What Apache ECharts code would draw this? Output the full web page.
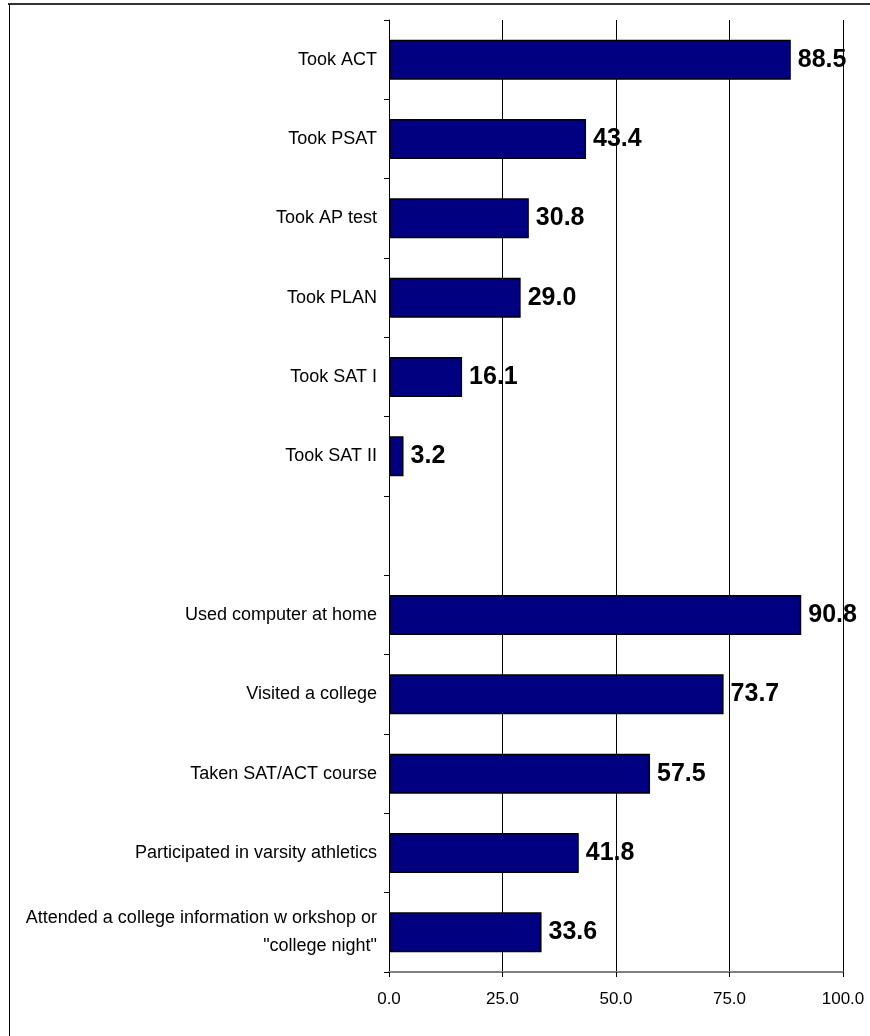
<!DOCTYPE html>
<html>
<head>
<meta charset="utf-8">
<script src="https://cdn.jsdelivr.net/npm/echarts@6/dist/echarts.min.js"></script>
<style>html,body{margin:0;padding:0;background:#fff}#c{width:870px;height:1036px}</style>
</head>
<body>
<div id="c"></div>
<script>
var categories = ["Took ACT","Took PSAT","Took AP test","Took PLAN","Took SAT I","Took SAT II","","Used computer at home","Visited a college","Taken SAT/ACT course","Participated in varsity athletics","Attended a college information w orkshop or\n\"college night\""];
var values = [88.5, 43.4, 30.8, 29.0, 16.1, 3.2, null, 90.8, 73.7, 57.5, 41.8, 33.6];
var xTicks = {min: 0, max: 100, interval: 25};

var chart = echarts.init(document.getElementById('c'));
chart.setOption({
  animation: false,
  textStyle: {fontFamily: 'Liberation Sans, Arial, sans-serif'},
  graphic: [
    {type: 'line', shape: {x1: 8, y1: 4, x2: 870, y2: 4}, style: {stroke: '#333', lineWidth: 2}},
    {type: 'line', shape: {x1: 9.5, y1: 4, x2: 9.5, y2: 1036}, style: {stroke: '#000', lineWidth: 1}}
  ],
  grid: {left: 389, right: 27, top: 20, bottom: 64, containLabel: false},
  xAxis: {
    type: 'value', min: xTicks.min, max: xTicks.max, interval: xTicks.interval,
    position: 'bottom',
    axisLine: {show: true, lineStyle: {color: '#808080', width: 2}},
    axisTick: {show: true, length: 5, lineStyle: {color: '#000'}},
    splitLine: {show: true, lineStyle: {color: '#000', width: 1}},
    axisLabel: {color: '#000', fontSize: 17, margin: 19, formatter: function(v){return v.toFixed(1);}}
  },
  yAxis: {
    type: 'category', data: categories, inverse: true,
    axisLine: {show: true, lineStyle: {color: '#000', width: 1}},
    axisTick: {show: true, length: 5, inside: false, lineStyle: {color: '#000'}},
    axisLabel: {color: '#000', fontSize: 18, margin: 12, align: 'right', lineHeight: 28}
  },
  series: [{
    type: 'bar', data: values, barWidth: 40,
    itemStyle: {color: '#000080', borderColor: '#000', borderWidth: 1.5},
    label: {show: true, position: 'right', distance: 7, color: '#000', fontWeight: 'bold', fontSize: 25,
      formatter: function(p){return p.value == null ? '' : p.value.toFixed(1);}}
  }]
});
</script>
</body>
</html>
